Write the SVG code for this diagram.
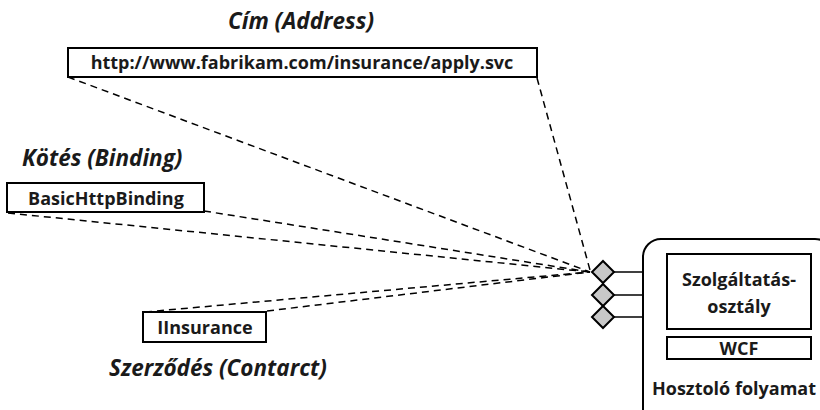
<svg xmlns="http://www.w3.org/2000/svg" width="820" height="410" viewBox="0 0 820 410">
  <style>
    .box { fill: #fff; stroke: #000; stroke-width: 2; }
    .lbl { font-family: "Open Sans", "Liberation Sans", sans-serif; font-weight: bold; font-size: 18px; fill: #1a1a1a; text-anchor: middle; }
    .ttl { font-family: "Open Sans", "Liberation Sans", sans-serif; font-weight: bold; font-style: italic; font-size: 22.5px; fill: #1a1a1a; }
    .dash { stroke: #000; stroke-width: 1.5; stroke-dasharray: 7 5; fill: none; }
    .wire { stroke: #000; stroke-width: 1.5; fill: none; }
    .port { fill: #c8c8c8; stroke: #000; stroke-width: 2; stroke-linejoin: miter; }
  </style>
  <rect width="820" height="410" fill="#fff"/>

  <!-- dashed connectors from address, binding and contract to the endpoint -->
  <g id="connectors">
    <line class="dash" x1="68" y1="77" x2="590" y2="272"/>
    <line class="dash" x1="537" y1="78" x2="590" y2="270"/>
    <line class="dash" x1="8" y1="213" x2="590" y2="272"/>
    <line class="dash" x1="204" y1="211" x2="590" y2="272"/>
    <line class="dash" x1="145" y1="312" x2="590" y2="272"/>
    <line class="dash" x1="267" y1="311" x2="590" y2="272"/>
    <line class="wire" x1="614" y1="272" x2="667" y2="272"/>
    <line class="wire" x1="614" y1="295" x2="667" y2="295"/>
    <line class="wire" x1="614" y1="317" x2="667" y2="317"/>
  </g>

  <g id="address">
    <text class="ttl" x="301" y="29" text-anchor="middle">Cím (Address)</text>
    <rect class="box" x="68" y="48" width="469" height="29"/>
    <text class="lbl" x="302" y="69">http://www.fabrikam.com/insurance/apply.svc</text>
  </g>

  <g id="binding">
    <text class="ttl" x="22" y="166">Kötés (Binding)</text>
    <rect class="box" x="7" y="183" width="197" height="29"/>
    <text class="lbl" x="106" y="205">BasicHttpBinding</text>
  </g>

  <g id="contract">
    <rect class="box" x="143" y="312" width="123" height="30"/>
    <text class="lbl" x="205" y="334">IInsurance</text>
    <text class="ttl" x="109" y="376">Szerződés (Contarct)</text>
  </g>

  <g id="endpoints">
    <polygon class="port" points="603,261 614,272 603,283 592,272"/>
    <polygon class="port" points="603,284 614,295 603,306 592,295"/>
    <polygon class="port" points="603,306 614,317 603,328 592,317"/>
  </g>

  <g id="host">
    <rect class="box" x="643" y="239" width="190" height="190" rx="18"/>
    <rect class="box" x="667" y="254" width="144" height="75"/>
    <text class="lbl" x="739" y="286">Szolgáltatás-</text>
    <text class="lbl" x="739" y="313">osztály</text>
    <rect class="box" x="667" y="337" width="144" height="22"/>
    <text class="lbl" x="739" y="355">WCF</text>
    <text class="lbl" x="734" y="395">Hosztoló folyamat</text>
  </g>
</svg>
